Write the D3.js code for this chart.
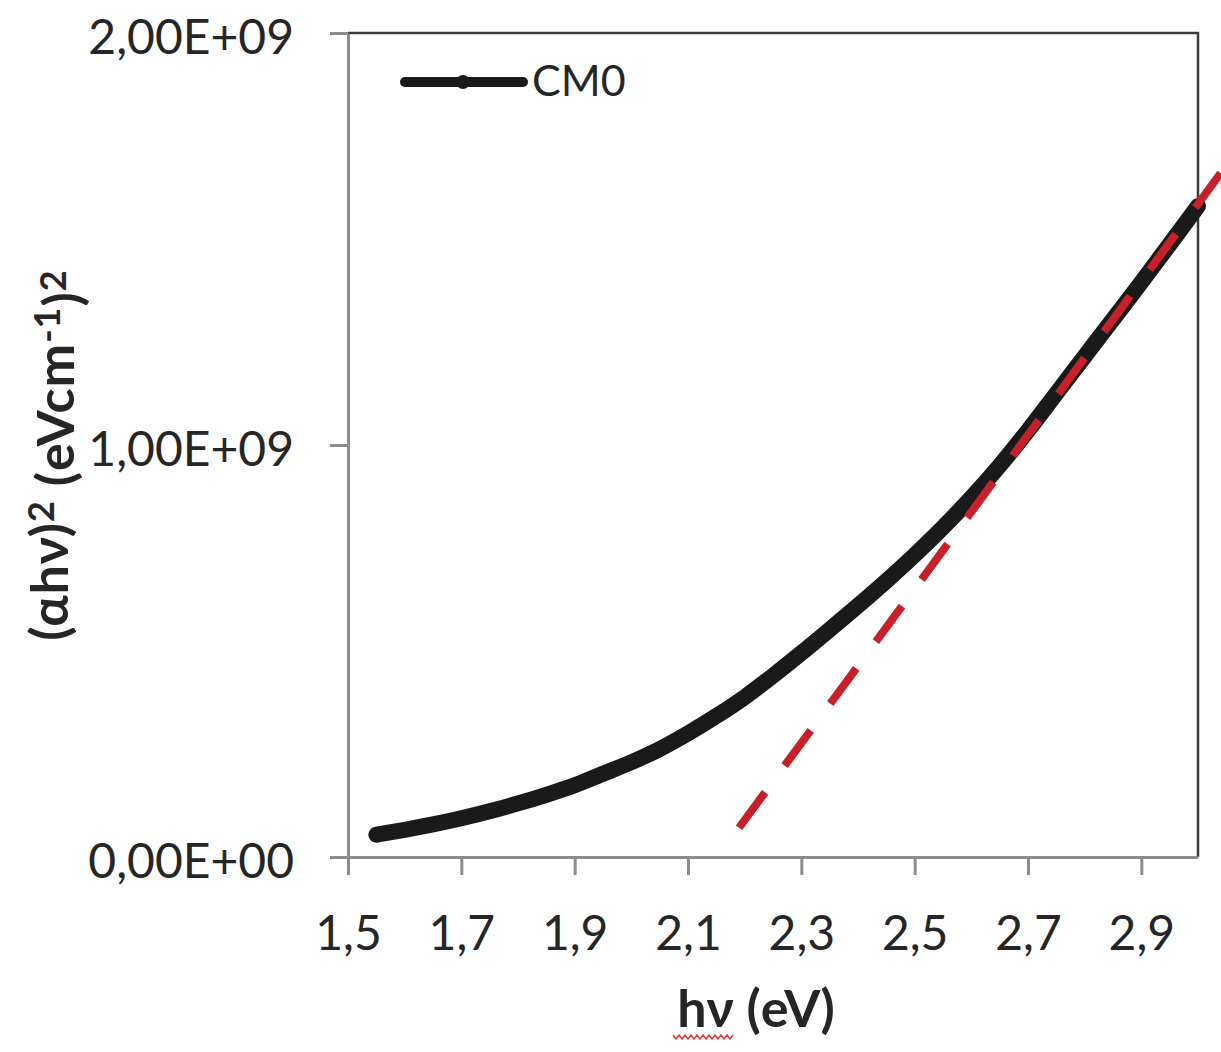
<!DOCTYPE html>
<html>
<head>
<meta charset="utf-8">
<script src="https://cdn.jsdelivr.net/npm/d3@7"></script>
<style>
  body { margin: 0; background: #fff; }
  text { font-family: Lato, "Open Sans", sans-serif; fill: #262626; }
</style>
</head>
<body>
<div id="chart"></div>
<script>
// Tauc plot data
var seriesName = "CM0";
var hv   = [1.55, 1.60, 1.65, 1.70, 1.75, 1.80, 1.85, 1.90, 1.95, 2.00,
            2.05, 2.10, 2.15, 2.20, 2.25, 2.30, 2.35, 2.40, 2.45, 2.50,
            2.55, 2.60, 2.65, 2.70, 2.75, 2.80, 2.85, 2.90, 2.95, 3.00];
var ahv2 = [0.54e8, 0.66e8, 0.79e8, 0.94e8, 1.11e8, 1.30e8, 1.51e8, 1.74e8, 2.02e8, 2.30e8,
            2.62e8, 3.00e8, 3.42e8, 3.88e8, 4.40e8, 4.95e8, 5.52e8, 6.10e8, 6.70e8, 7.33e8,
            8.00e8, 8.72e8, 9.50e8, 10.35e8, 11.25e8, 12.15e8, 13.05e8, 13.95e8, 14.87e8, 15.8e8];

// linear fit (dashed)
var fitHv  = [2.19, 3.04];
var fitVal = [0.71e8, 16.6e8];

var xTicks = [1.5, 1.7, 1.9, 2.1, 2.3, 2.5, 2.7, 2.9];
var yTicks = [0, 1e9, 2e9];

var margin = {top: 33, right: 23, bottom: 195, left: 348};
var width = 1221 - margin.left - margin.right;
var height = 1052 - margin.top - margin.bottom;

var svg = d3.select("#chart").append("svg")
    .attr("width", 1221)
    .attr("height", 1052);

var g = svg.append("g")
    .attr("transform", "translate(" + margin.left + "," + margin.top + ")");

var x = d3.scaleLinear().domain([1.5, 3.0]).range([0, width]);
var y = d3.scaleLinear().domain([0, 2e9]).range([height, 0]);

function sci(v) {
    if (v === 0) return "0,00E+00";
    var e = Math.floor(Math.log10(v));
    var m = v / Math.pow(10, e);
    return m.toFixed(2).replace(".", ",") + "E+" + (e < 10 ? "0" + e : e);
}

// top / right border
g.append("path")
    .attr("d", "M0," + y(2e9) + "H" + x(3.0) + "V" + y(0))
    .attr("fill", "none")
    .attr("stroke", "#3a3a3a")
    .attr("stroke-width", 2.5);

var xAxis = g.append("g")
    .attr("transform", "translate(0," + height + ")")
    .call(d3.axisBottom(x).tickValues(xTicks).tickSize(18).tickSizeOuter(0).tickPadding(41)
        .tickFormat(function(d) { return d3.format(".1f")(d).replace(".", ","); }));

var yAxis = g.append("g")
    .call(d3.axisLeft(y).tickValues(yTicks).tickSize(18).tickSizeOuter(0).tickPadding(36)
        .tickFormat(sci));

[xAxis, yAxis].forEach(function(a) {
    a.select(".domain").attr("stroke", "#8c8c8c").attr("stroke-width", 3);
    a.selectAll(".tick line").attr("stroke", "#8c8c8c").attr("stroke-width", 3);
    a.selectAll(".tick text")
        .style("font-size", "48px")
        .style("font-family", "Lato, 'Open Sans', sans-serif")
        .attr("fill", "#262626");
});
yAxis.selectAll(".tick text").attr("dy", "0.42em");

// data curve
var pts = hv.map(function(d, i) { return [d, ahv2[i]]; });
var line = d3.line()
    .x(function(d) { return x(d[0]); })
    .y(function(d) { return y(d[1]); })
    .curve(d3.curveMonotoneX);

g.append("path")
    .datum(pts)
    .attr("d", line)
    .attr("fill", "none")
    .attr("stroke", "#1a1a1a")
    .attr("stroke-width", 16)
    .attr("stroke-linecap", "round")
    .attr("stroke-linejoin", "round");

// fit line
g.append("path")
    .datum(fitHv.map(function(d, i) { return [d, fitVal[i]]; }))
    .attr("d", d3.line().x(function(d) { return x(d[0]); }).y(function(d) { return y(d[1]); }))
    .attr("fill", "none")
    .attr("stroke", "#c8202b")
    .attr("stroke-width", 8)
    .attr("stroke-dasharray", "44,33");

// legend
var leg = svg.append("g").attr("transform", "translate(405,82)");
leg.append("line")
    .attr("x1", 0).attr("x2", 118)
    .attr("stroke", "#1a1a1a").attr("stroke-width", 10).attr("stroke-linecap", "round");
leg.append("circle").attr("cx", 58).attr("r", 7).attr("fill", "#1a1a1a");
leg.append("text")
    .attr("x", 127).attr("y", 14)
    .style("font-size", "43px")
    .text(seriesName);

// axis titles
var xt = svg.append("text")
    .attr("x", 756).attr("y", 1027)
    .attr("text-anchor", "middle")
    .style("font-size", "52px").style("font-weight", "bold");
xt.append("tspan").text("hν");
xt.append("tspan").text(" (eV)");

// spell-check squiggle under hν
var sq = d3.range(0, 61, 3).map(function(d, i) { return [673 + d, 1036 + (i % 2 ? 3 : -1)]; });
svg.append("path")
    .attr("d", d3.line()(sq))
    .attr("fill", "none")
    .attr("stroke", "#e03a3a")
    .attr("stroke-width", 1.5);

var yt = svg.append("text")
    .attr("transform", "translate(68,455) rotate(-90)")
    .attr("text-anchor", "middle")
    .style("font-size", "52px").style("font-weight", "bold")
    .style("letter-spacing", "1px");
yt.append("tspan").text("(αhν)");
yt.append("tspan").attr("dy", "-0.4em").style("font-size", "36px").text("2");
yt.append("tspan").attr("dy", "0.4em").text(" (eVcm");
yt.append("tspan").attr("dy", "-0.4em").style("font-size", "36px").text("-1");
yt.append("tspan").attr("dy", "0.4em").text(")");
yt.append("tspan").attr("dy", "-0.4em").style("font-size", "36px").text("2");
</script>
</body>
</html>
